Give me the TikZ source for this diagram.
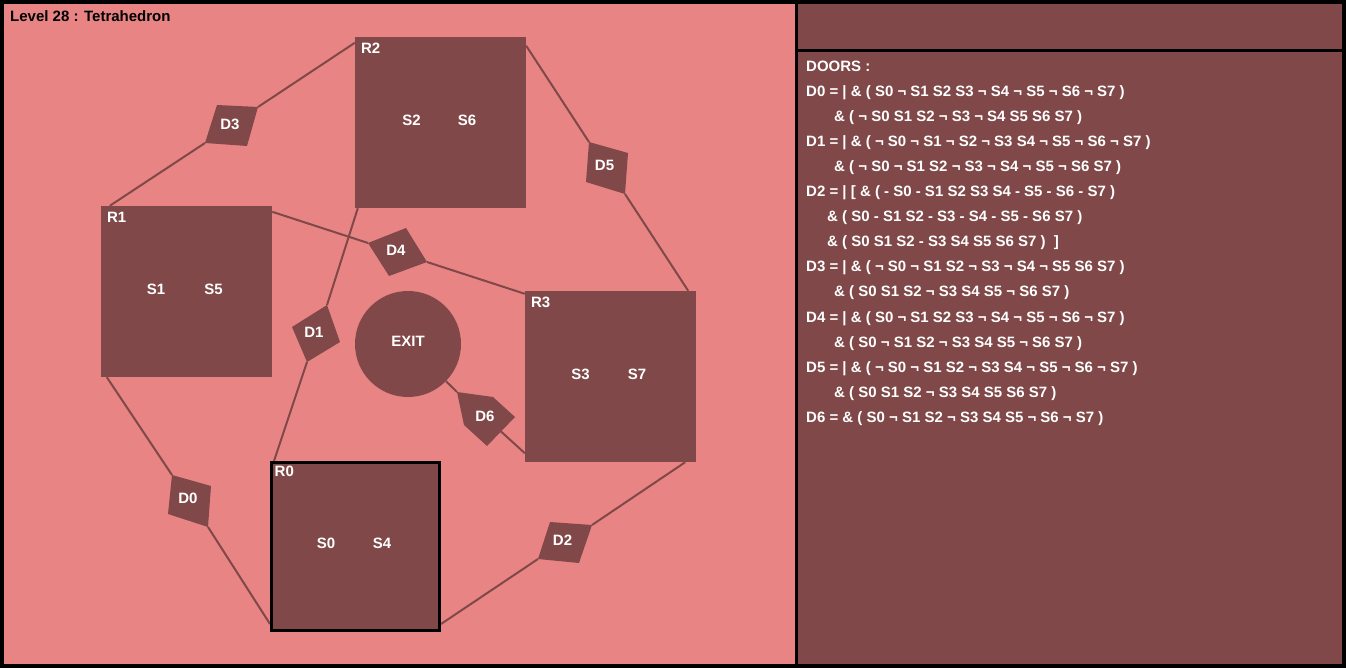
\documentclass[tikz,border=0pt]{standalone}
\usepackage{fontspec}
\setmainfont{Liberation Sans}
\usetikzlibrary{calc}
\definecolor{floorpink}{RGB}{232,132,132}
\definecolor{roombrown}{RGB}{128,72,72}
\pgfdeclarelayer{bg}
\pgfdeclarelayer{links}
\pgfsetlayers{bg,links,main}
\tikzset{
	room/.style={fill=roombrown, minimum size=171pt, inner sep=0pt},
	startroom/.style={fill=roombrown, draw=black, line width=3pt, minimum size=168pt, inner sep=0pt},
	door/.style={fill=roombrown},
	link/.style={draw=roombrown, line width=2pt},
	tag/.style={text=white, font=\fontsize{15}{15}\bfseries\selectfont, inner sep=0pt},
	rule/.style={text=white, font=\fontsize{15}{15}\bfseries\selectfont, inner sep=0pt, anchor=base west},
}

\begin{document}
\begin{tikzpicture}[x=1pt, y=-1pt]
			%%%%% START %%%%%
			\useasboundingbox (0,0) rectangle (1346,668);
			
			\begin{pgfonlayer}{bg}
			\fill[black] (0,0) rectangle (1346,668);
			\fill[floorpink] (4,4) rectangle (795,664);
			\fill[roombrown] (798,4) rectangle (1342,49);
			\fill[roombrown] (798,52) rectangle (1342,664);
			\end{pgfonlayer}
			
			\node[anchor=base west, inner sep=0pt, font=\fontsize{15}{15}\bfseries\selectfont] (title) at (10,22) {Level 28 : Tetrahedron};
			
			% rooms
			\node[room] (R1) at (186.5,291.5) {};
			\node[room] (R2) at (440.5,122.5) {};
			\node[room] (R3) at (610.5,376.5) {};
			\node[startroom] (R0) at (355.5,546.5) {};
			\node[fill=roombrown, circle, minimum size=106pt, inner sep=0pt] (EXIT) at (408,344) {};
			
			\node[tag, anchor=base west] (R0t) at ($(R0.north west)+(4.5,15)$) {R0};
			\node[tag, anchor=base west] (R1t) at ($(R1.north west)+(6,16.5)$) {R1};
			\node[tag, anchor=base west] (R2t) at ($(R2.north west)+(6,17)$) {R2};
			\node[tag, anchor=base west] (R3t) at ($(R3.north west)+(6,17)$) {R3};
			
			\node[tag] (S0) at ($(R0)+(-29.5,-3)$) {S0};
			\node[tag] (S4) at ($(R0)+(26.5,-3)$) {S4};
			\node[tag] (S1) at ($(R1)+(-30.5,-2)$) {S1};
			\node[tag] (S5) at ($(R1)+(27,-2)$) {S5};
			\node[tag] (S2) at ($(R2)+(-29,-2)$) {S2};
			\node[tag] (S6) at ($(R2)+(26.5,-2)$) {S6};
			\node[tag] (S3) at ($(R3)+(-30,-2)$) {S3};
			\node[tag] (S7) at ($(R3)+(26.5,-2)$) {S7};
			\node[tag] (EXITt) at ($(EXIT)+(0,-2.3)$) {EXIT};
			
			% doors
			\coordinate (d0a) at (172,475); \coordinate (d0b) at (208,527);
			\fill[door] (d0a) -- (211,486) -- (d0b) -- (168,514) -- cycle;
			\node[tag] (D0) at (188,498.5) {D0};
			
			\coordinate (d1a) at (327,305); \coordinate (d1b) at (307,362);
			\fill[door] (d1a) -- (340,342) -- (d1b) -- (292,327) -- cycle;
			\node[tag] (D1) at (314,332) {D1};
			
			\coordinate (d2a) at (538,559); \coordinate (d2b) at (592,525);
			\fill[door] (d2a) -- (550,522) -- (d2b) -- (579,563) -- cycle;
			\node[tag] (D2) at (562.5,540.5) {D2};
			
			\coordinate (d3a) at (205,143); \coordinate (d3b) at (258,107);
			\fill[door] (d3a) -- (217,105) -- (d3b) -- (247,146) -- cycle;
			\node[tag] (D3) at (230,124) {D3};
			
			\coordinate (d4a) at (368,243); \coordinate (d4b) at (427,262);
			\fill[door] (d4a) -- (406,228) -- (d4b) -- (389,276) -- cycle;
			\node[tag] (D4) at (396,250) {D4};
			
			\coordinate (d5a) at (589,142); \coordinate (d5b) at (625,194);
			\fill[door] (d5a) -- (628,153) -- (d5b) -- (586,182) -- cycle;
			\node[tag] (D5) at (604.5,165.5) {D5};
			
			\coordinate (d6a) at (457,392); \coordinate (d6b) at (501,431.5);
			\fill[door] (d6a) -- (493,397) -- (515,417) -- (487,446) -- (464,425) -- cycle;
			\node[tag] (D6) at (485,416.3) {D6};
			
			% links
			\begin{pgfonlayer}{links}
			\draw[link] ($(R1.south west)+(6,0)$) -- (d0a);
			\draw[link] (d0b) -- ($(R0.south west)+(0,-8)$);
			\draw[link] ($(R2.south west)+(3,0)$) -- (d1a);
			\draw[link] (d1b) -- ($(R0.north west)+(4,0)$);
			\draw[link] ($(R0.south east)+(0,-8)$) -- (d2a);
			\draw[link] (d2b) -- ($(R3.south east)+(-11,0)$);
			\draw[link] ($(R1.north west)+(9,0)$) -- (d3a);
			\draw[link] (d3b) -- ($(R2.north west)+(0,6)$);
			\draw[link] ($(R1.north east)+(0,6)$) -- (d4a);
			\draw[link] (d4b) -- ($(R3.north west)+(0,3)$);
			\draw[link] ($(R2.north east)+(0,9)$) -- (d5a);
			\draw[link] (d5b) -- ($(R3.north east)+(-8,0)$);
			\draw[link] (EXIT) -- (d6a);
			\draw[link] (d6b) -- ($(R3.south west)+(0,-9)$);
			\end{pgfonlayer}
			
			% door rules
			\node[rule] (l0) at (806,72) {DOORS :};
			\node[rule] (l1) at (806,97) {D0 = | \& ( S0 ¬ S1 S2 S3 ¬ S4 ¬ S5 ¬ S6 ¬ S7 )};
			\node[rule] (l2) at (834,122) {\& ( ¬ S0 S1 S2 ¬ S3 ¬ S4 S5 S6 S7 )};
			\node[rule] (l3) at (806,147) {D1 = | \& ( ¬ S0 ¬ S1 ¬ S2 ¬ S3 S4 ¬ S5 ¬ S6 ¬ S7 )};
			\node[rule] (l4) at (834,172) {\& ( ¬ S0 ¬ S1 S2 ¬ S3 ¬ S4 ¬ S5 ¬ S6 S7 )};
			\node[rule] (l5) at (806,197) {D2 = | [ \& ( - S0 - S1 S2 S3 S4 - S5 - S6 - S7 )};
			\node[rule] (l6) at (827,222) {\& ( S0 - S1 S2 - S3 - S4 - S5 - S6 S7 )};
			\node[rule] (l7) at (827,247) {\& ( S0 S1 S2 - S3 S4 S5 S6 S7 )\ \ ]};
			\node[rule] (l8) at (806,272) {D3 = | \& ( ¬ S0 ¬ S1 S2 ¬ S3 ¬ S4 ¬ S5 S6 S7 )};
			\node[rule] (l9) at (834,297) {\& ( S0 S1 S2 ¬ S3 S4 S5 ¬ S6 S7 )};
			\node[rule] (l10) at (806,322) {D4 = | \& ( S0 ¬ S1 S2 S3 ¬ S4 ¬ S5 ¬ S6 ¬ S7 )};
			\node[rule] (l11) at (834,347) {\& ( S0 ¬ S1 S2 ¬ S3 S4 S5 ¬ S6 S7 )};
			\node[rule] (l12) at (806,372) {D5 = | \& ( ¬ S0 ¬ S1 S2 ¬ S3 S4 ¬ S5 ¬ S6 ¬ S7 )};
			\node[rule] (l13) at (834,397) {\& ( S0 S1 S2 ¬ S3 S4 S5 S6 S7 )};
			\node[rule] (l14) at (806,422) {D6 = \& ( S0 ¬ S1 S2 ¬ S3 S4 S5 ¬ S6 ¬ S7 )};
			
			%%%%% END %%%%%
\end{tikzpicture}
\end{document}
